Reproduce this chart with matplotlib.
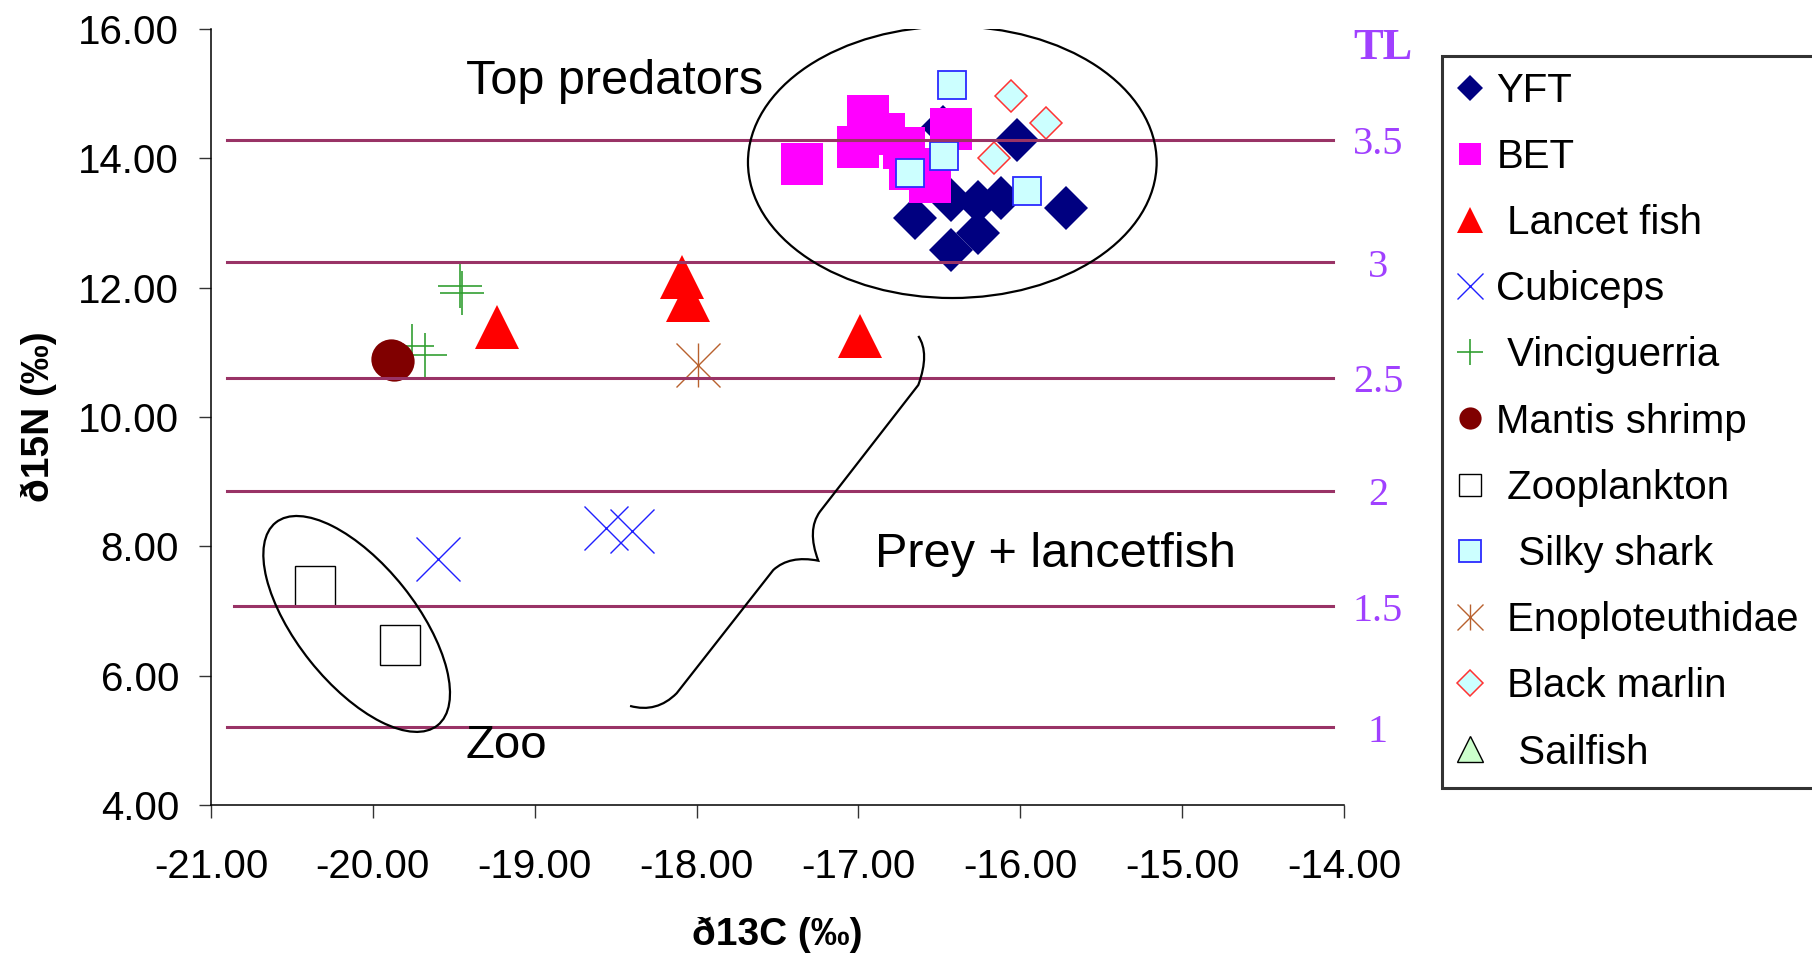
import numpy as np
import matplotlib.pyplot as plt
from matplotlib.lines import Line2D
from matplotlib.patches import Ellipse, PathPatch
from matplotlib.path import Path
from matplotlib.transforms import ScaledTranslation

plt.rcParams['font.family'] = ['Liberation Sans', 'DejaVu Sans']

# d13C (x) and d15N (y) values per group
yft_c = [-16.02, -15.72, -16.43, -16.26, -16.12, -16.26, -16.65, -16.43, -16.48]
yft_n = [14.28, 13.23, 12.58, 12.84, 13.38, 13.33, 13.08, 13.36, 14.49]
bet_c = [-17.35, -16.94, -17.00, -16.43, -16.84, -16.72, -16.56, -16.68]
bet_n = [13.92, 14.65, 14.17, 14.46, 14.37, 14.16, 13.63, 13.83]
lancet_c = [-19.23, -18.09, -18.05, -16.99]
lancet_n = [11.39, 12.16, 11.81, 11.25]
cubiceps_c = [-19.60, -18.56, -18.40]
cubiceps_n = [7.81, 8.29, 8.24]
vinci_c = [-19.46, -19.45, -19.76, -19.68]
vinci_n = [12.02, 11.92, 11.10, 10.96]
mantis_c = [-19.89, -19.87]
mantis_n = [10.89, 10.86]
zoo_c = [-20.36, -19.83]
zoo_n = [7.39, 6.48]
silky_c = [-16.42, -16.47, -16.68, -15.96]
silky_n = [15.13, 14.03, 13.78, 13.49]
enoplo_c = [-17.99]
enoplo_n = [10.80]
marlin_c = [-16.06, -15.84, -16.16]
marlin_n = [14.96, 14.54, 14.00]
sailfish_c = []
sailfish_n = []

# trophic level reference lines
tl_levels = ['3.5', '3', '2.5', '2', '1.5', '1']
tl_n = [14.29, 12.39, 10.61, 8.86, 7.07, 5.20]
tl_start = [-20.90, -20.90, -20.90, -20.90, -20.86, -20.90]
tl_end = -14.07

fig = plt.figure(figsize=(18.12, 9.59), dpi=100)
ax = fig.add_axes([211 / 1812, 1 - 805 / 959, 1133 / 1812, 776 / 959])

# (label, x, y, marker, size, face, edge, edge width, legend size)
series = [
    ('YFT', yft_c, yft_n, 'D', 22, '#000080', '#000080', 0, 13),
    ('BET', bet_c, bet_n, 's', 30, '#FF00FF', '#FF00FF', 0, 16),
    (' Lancet fish', lancet_c, lancet_n, '^', 32, '#FF0000', '#FF0000', 0, 19),
    ('Cubiceps', cubiceps_c, cubiceps_n, 'x', 32, '#0000FF', '#2020FF', 1.0, 19),
    (' Vinciguerria', vinci_c, vinci_n, '+', 31, '#33A033', '#33A033', 1.2, 19),
    ('Mantis shrimp', mantis_c, mantis_n, 'o', 29, '#800000', '#800000', 0, 16),
    (' Zooplankton', zoo_c, zoo_n, 's', 29, 'white', 'black', 1.0, 16),
    ('  Silky shark', silky_c, silky_n, 's', 20, '#CCFFFF', '#2B2BFF', 1.3, 16),
    (' Enoploteuthidae', enoplo_c, enoplo_n, 'x', 31, '#B8612E', '#B8612E', 1.0, 19),
    (' Black marlin', marlin_c, marlin_n, 'D', 16, '#CCFFFF', '#FF3333', 1.1, 13),
    ('  Sailfish', sailfish_c, sailfish_n, '^', 19, '#CCFFCC', 'black', 1.0, 19),
]

handles = []
labels = []
for lab, xs, ys, m, ms, fc, ec, ew, lms in series:
    ax.plot(xs, ys, ls='none', marker=m, ms=ms, mfc=fc, mec=ec, mew=ew, zorder=2)
    h = Line2D([], [], ls='none', marker=m, ms=lms, mfc=fc, mec=ec, mew=ew)
    if lab.strip() == 'Enoploteuthidae':
        # asterisk: an x with a vertical bar through it
        ax.plot(xs, ys, ls='none', marker='|', ms=ms, mec=ec, mew=ew, zorder=2)
        h = (h, Line2D([], [], ls='none', marker='|', ms=lms, mec=ec, mew=ew))
    handles.append(h)
    labels.append(lab)

for lvl, yv, x0 in zip(tl_levels, tl_n, tl_start):
    ax.plot([x0, tl_end], [yv, yv], color='#993366', lw=2.2, zorder=3)
    ax.text(-13.79, yv - 0.08, lvl, color='#A040FF', fontsize=29,
            family=['Liberation Serif', 'DejaVu Serif'], ha='center', va='center')
ax.text(-13.76, 15.70, 'TL', color='#A040FF', fontsize=32, fontweight='bold',
        family=['Liberation Serif', 'DejaVu Serif'], ha='center', va='center')

# group outlines
ax.add_patch(Ellipse((-16.42, 13.94), 2.525, 4.20, fill=False, ec='black',
                     lw=1.6, zorder=4))
zoo_tr = fig.dpi_scale_trans + ScaledTranslation(-20.10, 6.80, ax.transData)
ax.add_patch(Ellipse((0, 0), 2.594, 1.19, angle=-51.4, fill=False, ec='black',
                     lw=1.6, transform=zoo_tr, zorder=4))

# curly brace next to the prey label
brace = Path(
    [(-16.630, 11.253), (-16.558, 10.985), (-16.630, 10.495),
     (-17.238, 8.536),
     (-17.320, 8.253), (-17.248, 7.778),
     (-17.425, 7.866), (-17.526, 7.634),
     (-18.123, 5.728),
     (-18.246, 5.418), (-18.411, 5.532)],
    [Path.MOVETO, Path.CURVE3, Path.CURVE3,
     Path.LINETO,
     Path.CURVE3, Path.CURVE3,
     Path.CURVE3, Path.CURVE3,
     Path.LINETO,
     Path.CURVE3, Path.CURVE3])
ax.add_patch(PathPatch(brace, fill=False, ec='black', lw=1.6, zorder=4))

ax.text(-19.424, 14.995, 'Top predators', fontsize=35, ha='left', va='baseline')
ax.text(-16.90, 7.686, 'Prey + lancetfish', fontsize=35, ha='left', va='baseline')
ax.text(-19.426, 4.727, 'Zoo', fontsize=34, ha='left', va='baseline')

ax.set_xlim(-21, -14)
ax.set_ylim(4, 16)
xt = np.arange(-21, -13.5, 1.0)
yt = np.arange(4, 16.5, 2.0)
ax.set_xticks(xt)
ax.set_xticklabels(['%.2f' % v for v in xt])
ax.set_yticks(yt)
ax.set_yticklabels(['%.2f' % v for v in yt])
ax.tick_params(direction='out', length=9, width=1, labelsize=29, color='#333333')
ax.tick_params(axis='x', pad=22)
ax.tick_params(axis='y', pad=14)
for s in ['top', 'right']:
    ax.spines[s].set_visible(False)
for s in ['left', 'bottom']:
    ax.spines[s].set_linewidth(1.1)

ax.set_xlabel('ð13C (‰)', fontsize=28, fontweight='bold', labelpad=22)
ax.set_ylabel('ð15N (‰)', fontsize=28, fontweight='bold', labelpad=15)

leg = ax.legend(handles, labels, loc='upper left',
                bbox_to_anchor=(1442 / 1812, 1 - 55.5 / 959),
                bbox_transform=fig.transFigure, fontsize=29, frameon=True,
                fancybox=False, borderaxespad=0, borderpad=0.4,
                handlelength=0.6, handletextpad=0.35, labelspacing=0.7)
leg.get_frame().set_edgecolor('black')
leg.get_frame().set_linewidth(2.2)

fig.savefig('out.png', dpi=100, facecolor='white')
